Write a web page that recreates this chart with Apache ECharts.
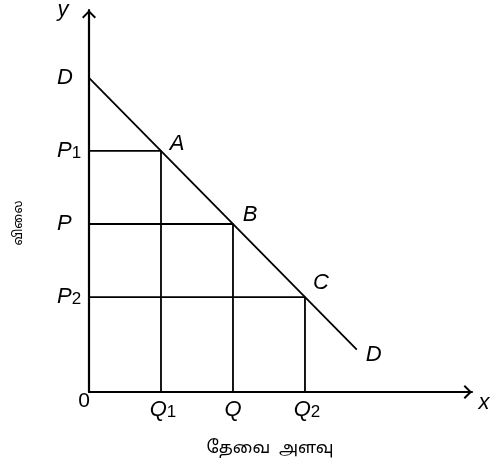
<!DOCTYPE html>
<html>
<head>
<meta charset="utf-8">
<script src="https://cdn.jsdelivr.net/npm/echarts@6/dist/echarts.min.js"></script>
<style>
  html, body { margin: 0; padding: 0; background: #fff; }
  #chart { width: 491px; height: 466px; }
</style>
</head>
<body>
<div id="chart"></div>
<script>
// Demand schedule: three price / quantity combinations on a straight demand line
const pointNames = ['A', 'B', 'C'];
const quantities = [1, 2, 3];          // Q1, Q, Q2
const prices = [3.3, 2.3, 1.3];        // P1, P, P2
const demandLine = [[0, 4.3], [3.72, 0.58]];
const demandLabel = 'D';

// Tick labels on both axes
const xTickValues = [0, 1, 2, 3];
const xTickLabels = ['0', 'Q1', 'Q', 'Q2'];
const yTickValues = [1.3, 2.3, 3.3, 4.3];
const yTickLabels = ['P2', 'P', 'P1', 'D'];

// Axis titles
const xTitle = 'தேவை  அளவு';
const yTitle = 'விலை';

const LATIN = '"Liberation Sans", Arial, Helvetica, sans-serif';
const TAMIL = '"Noto Sans Tamil", "Lohit Tamil", Latha, "Noto Sans", sans-serif';

function pick(values, labels, v) {
  let best = 0;
  values.forEach((t, i) => { if (Math.abs(t - v) < Math.abs(values[best] - v)) best = i; });
  return labels[best];
}

// "P1" -> italic letter with an upright subscript digit
function richLabel(text) {
  if (text === '0') return '{z|0}';
  const m = text.match(/^([A-Za-z]+)(\d*)$/);
  if (!m) return text;
  return m[2] ? '{ms|' + m[1] + '}{s|' + m[2] + '}' : '{m|' + m[1] + '}';
}

const richStyles = {
  m: { fontFamily: LATIN, fontStyle: 'italic', fontSize: 22, lineHeight: 22, verticalAlign: 'top', color: '#000' },
  ms: { fontFamily: LATIN, fontStyle: 'italic', fontSize: 22, lineHeight: 22, verticalAlign: 'top', color: '#000' },
  s: { fontFamily: LATIN, fontSize: 17, lineHeight: 10, verticalAlign: 'bottom', color: '#000' },
  z: { fontFamily: LATIN, fontSize: 21, lineHeight: 4, padding: [0, 10, 0, 0], color: '#000' }
};

// open chevron used as the arrow head of both axes
const chevron = 'path://M7,0 L14,7 L12.6,8.4 L7,2.8 L1.4,8.4 L0,7 Z';
const arrowSize = [14, 8.4];

const axisLineStyle = {
  show: true,
  symbol: ['none', chevron],
  symbolSize: arrowSize,
  symbolOffset: [0, -arrowSize[1] / 2],
  lineStyle: { color: '#000', width: 2.2 }
};

const lineStyle = { color: '#000', width: 1.8 };

// guide lines from each price on the y axis to the curve and down to the quantity
const guideSeries = pointNames.map((n, i) => ({
  type: 'line',
  name: 'guide ' + n,
  data: [[0, prices[i]], [quantities[i], prices[i]], [quantities[i], 0]],
  symbol: 'none',
  lineStyle: lineStyle,
  silent: true,
  z: 2
}));

// letter offsets relative to the point each one names
const letterOffset = { A: [16, -7], B: [17, -9], C: [16, -14], D: [17, 5] };

const letterPoints = pointNames.map((n, i) => ({ name: n, value: [quantities[i], prices[i]] }))
  .concat([{ name: demandLabel, value: demandLine[demandLine.length - 1] }])
  .map((d, i) => ({
    name: d.name,
    value: d.value,
    label: { offset: i < pointNames.length ? letterOffset[d.name] : letterOffset.D }
  }));

const chart = echarts.init(document.getElementById('chart'), null, { renderer: 'canvas' });

chart.setOption({
  backgroundColor: '#fff',
  animation: false,
  grid: { left: 89, right: 19, top: 10, bottom: 74, containLabel: false, outerBoundsMode: 'none' },
  xAxis: {
    type: 'value',
    min: 0,
    max: 5.32,
    axisLine: axisLineStyle,
    axisTick: { show: false },
    splitLine: { show: false },
    axisLabel: {
      customValues: xTickValues,
      margin: 7,
      formatter: v => richLabel(pick(xTickValues, xTickLabels, v)),
      rich: Object.assign({}, richStyles, {
        ms: Object.assign({}, richStyles.ms, { padding: [0, 0, 0, 4] })
      })
    }
  },
  yAxis: {
    type: 'value',
    min: 0,
    max: 5.23,
    axisLine: axisLineStyle,
    axisTick: { show: false },
    splitLine: { show: false },
    axisLabel: {
      customValues: yTickValues,
      margin: 32,
      align: 'left',
      verticalAlign: 'middle',
      formatter: v => richLabel(pick(yTickValues, yTickLabels, v)),
      rich: richStyles
    }
  },
  graphic: [
    {
      type: 'text', x: 270, y: 450,
      style: { text: xTitle, font: '17px ' + TAMIL, fill: '#000', align: 'center', verticalAlign: 'middle' }
    },
    {
      type: 'text', x: 19, y: 223, rotation: Math.PI / 2,
      style: { text: yTitle, font: '13px ' + TAMIL, fill: '#000', align: 'center', verticalAlign: 'middle' }
    },
    {
      type: 'text', x: 484, y: 403,
      style: { text: 'x', font: 'italic 22px ' + LATIN, fill: '#000', align: 'center', verticalAlign: 'middle' }
    },
    {
      type: 'text', x: 63, y: 10,
      style: { text: 'y', font: 'italic 22px ' + LATIN, fill: '#000', align: 'center', verticalAlign: 'middle' }
    }
  ],
  series: guideSeries.concat([
    {
      type: 'line',
      name: 'demand',
      data: demandLine,
      symbol: 'none',
      lineStyle: lineStyle,
      silent: true,
      z: 3
    },
    {
      type: 'scatter',
      name: 'letters',
      data: letterPoints,
      symbolSize: 0,
      silent: true,
      itemStyle: { opacity: 1, color: '#000' },
      label: {
        show: true,
        position: 'inside',
        formatter: p => p.name,
        fontFamily: LATIN,
        fontStyle: 'italic',
        fontSize: 22,
        color: '#000',
        opacity: 1,
        textBorderWidth: 0,
        textBorderColor: 'transparent'
      },
      z: 4
    }
  ])
});
</script>
</body>
</html>
